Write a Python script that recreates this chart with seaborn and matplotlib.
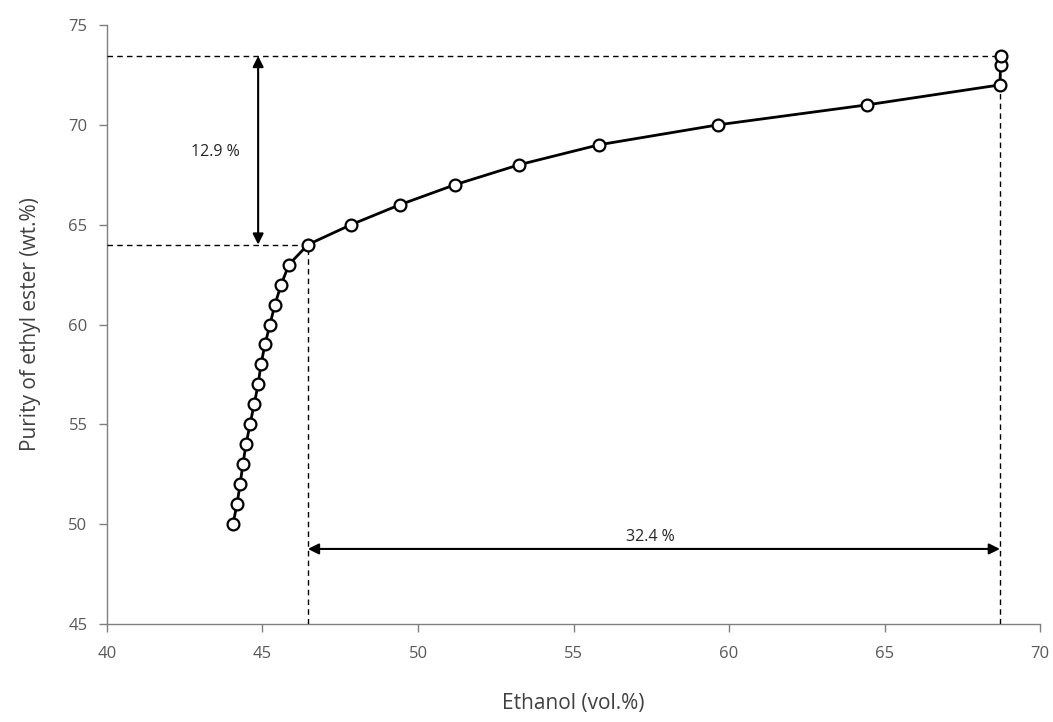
import matplotlib
matplotlib.use("Agg")
import matplotlib.pyplot as plt
import seaborn as sns
import pandas as pd

ethanol = [44.05, 44.18, 44.28, 44.37, 44.47, 44.60, 44.73, 44.86, 44.95, 45.08,
           45.24, 45.40, 45.60, 45.85, 46.46, 47.85, 49.42, 51.19, 53.25, 55.82,
           59.65, 64.44, 68.71, 68.73, 68.73]
purity = [50, 51, 52, 53, 54, 55, 56, 57, 58, 59, 60, 61, 62, 63, 64, 65, 66, 67,
          68, 69, 70, 71, 72, 73, 73.45]
x_ticks = [40, 45, 50, 55, 60, 65, 70]
y_ticks = [45, 50, 55, 60, 65, 70, 75]

x_knee, y_knee = 46.46, 64
x_end, y_top = 68.71, 73.45
label_v = "12.9 %"
label_h = "32.4 %"

df = pd.DataFrame({"ethanol": ethanol, "purity": purity})

sns.set_theme(style="white")
plt.rcParams["font.family"] = ["Open Sans", "DejaVu Sans"]

fig = plt.figure(figsize=(10.53, 7.22), dpi=100)
ax = fig.add_axes([0.1016, 0.1357, 0.8861, 0.8297])

sns.lineplot(data=df, x="ethanol", y="purity", ax=ax, sort=False, estimator=None,
             color="black", linewidth=2, marker="o", markersize=8.5,
             markerfacecolor="white", markeredgecolor="black",
             markeredgewidth=1.6, zorder=5)

dash = dict(color="black", linestyle=(0, (4, 3)), linewidth=1.0, zorder=3)
ax.plot([40, x_end], [y_top, y_top], **dash)
ax.plot([40, x_knee], [y_knee, y_knee], **dash)
ax.plot([x_knee, x_knee], [45, y_knee], **dash)
ax.plot([x_end, x_end], [45, y_top], **dash)

arrow = dict(arrowstyle="<|-|>", color="black", lw=1.5, mutation_scale=16,
             shrinkA=0, shrinkB=0)
ax.annotate("", xy=(44.86, y_top), xytext=(44.86, y_knee), arrowprops=arrow, zorder=4)
ax.annotate("", xy=(x_knee, 48.76), xytext=(x_end, 48.76), arrowprops=arrow, zorder=4)
ax.text(43.47, 68.64, label_v, ha="center", va="center", fontsize=11.5, color="#262626")
ax.text(57.46, 49.35, label_h, ha="center", va="center", fontsize=11.5, color="#262626")

ax.set_xlim(40, 70)
ax.set_ylim(45, 75)
ax.set_xticks(x_ticks)
ax.set_yticks(y_ticks)
ax.tick_params(axis="both", direction="out", length=6, width=1, color="#7f7f7f",
               labelsize=12, labelcolor="#595959", pad=8, bottom=True, left=True)
ax.tick_params(axis="x", pad=10)
for s in ["top", "right"]:
    ax.spines[s].set_visible(False)
for s in ["left", "bottom"]:
    ax.spines[s].set_color("#7f7f7f")
    ax.spines[s].set_linewidth(1)

ax.set_xlabel("Ethanol (vol.%)", fontsize=15, color="#404040", labelpad=22)
ax.set_ylabel("Purity of ethyl ester (wt.%)", fontsize=15, color="#404040", labelpad=20)

fig.savefig("out.png", dpi=100)
